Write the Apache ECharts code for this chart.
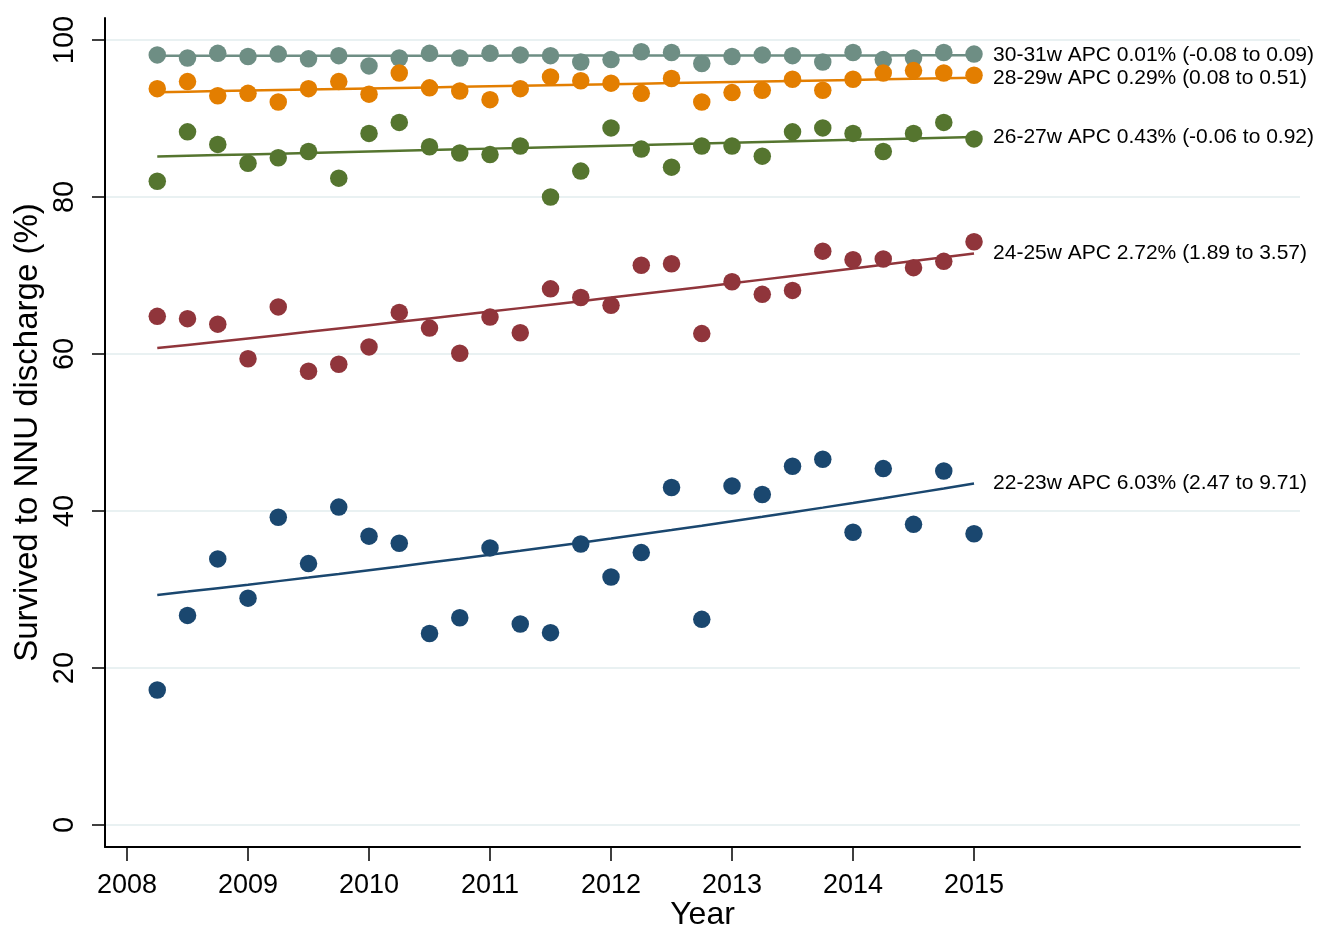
<!DOCTYPE html>
<html>
<head>
<meta charset="utf-8">
<title>Survival to NNU discharge by gestational age</title>
<script src="https://cdn.jsdelivr.net/npm/echarts@6/dist/echarts.min.js"></script>
<style>
  html, body { margin: 0; padding: 0; background: #ffffff; overflow: hidden; }
  #chart { width: 1323px; height: 928px; }
</style>
</head>
<body>
<div id="chart"></div>
<script>
// Quarterly time points (decimal year)
const quarters = [
  2008.25, 2008.5, 2008.75, 2009.0, 2009.25, 2009.5, 2009.75,
  2010.0, 2010.25, 2010.5, 2010.75, 2011.0, 2011.25, 2011.5,
  2011.75, 2012.0, 2012.25, 2012.5, 2012.75, 2013.0, 2013.25,
  2013.5, 2013.75, 2014.0, 2014.25, 2014.5, 2014.75, 2015.0
];

// Survival to neonatal unit discharge (%), by gestational age group
const w30_31 = [98.1, 97.7, 98.3, 97.9, 98.2, 97.6, 98.0, 96.7, 97.7, 98.3, 97.7, 98.3, 98.1, 98.0,
                97.2, 97.5, 98.5, 98.4, 97.0, 97.9, 98.1, 98.0, 97.2, 98.4, 97.5, 97.7, 98.4, 98.2];
const w28_29 = [93.8, 94.7, 92.9, 93.2, 92.1, 93.8, 94.7, 93.1, 95.8, 93.9, 93.5, 92.4, 93.8, 95.3,
                94.8, 94.5, 93.2, 95.1, 92.1, 93.3, 93.6, 95.0, 93.6, 95.0, 95.8, 96.1, 95.8, 95.5];
const w26_27 = [82.0, 88.3, 86.7, 84.3, 85.0, 85.8, 82.4, 88.1, 89.5, 86.4, 85.6, 85.4, 86.5, 80.0,
                83.3, 88.8, 86.1, 83.8, 86.5, 86.5, 85.2, 88.3, 88.8, 88.1, 85.8, 88.1, 89.5, 87.4];
const w24_25 = [64.8, 64.5, 63.8, 59.4, 66.0, 57.8, 58.7, 60.9, 65.3, 63.3, 60.1, 64.7, 62.7, 68.3,
                67.2, 66.2, 71.3, 71.5, 62.6, 69.2, 67.6, 68.1, 73.1, 72.0, 72.1, 71.0, 71.8, 74.3];
const w22_23 = [17.2, 26.7, 33.9, 28.9, 39.2, 33.3, 40.5, 36.8, 35.9, 24.4, 26.4, 35.3, 25.6, 24.5,
                35.8, 31.6, 34.7, 43.0, 26.2, 43.2, 42.1, 45.7, 46.6, 37.3, 45.4, 38.3, 45.1, 37.1];

// Group names, annual percent change (APC) with 95% CI, and fitted value at the first quarter
const groups = ['30-31w', '28-29w', '26-27w', '24-25w', '22-23w'];
const apc = [0.01, 0.29, 0.43, 2.72, 6.03];
const apcLow = [-0.08, 0.08, -0.06, 1.89, 2.47];
const apcHigh = [0.09, 0.51, 0.92, 3.57, 9.71];
const trendStart = [97.98, 93.35, 85.15, 60.75, 29.3];

// Axis ticks
const xTicks = [2008, 2009, 2010, 2011, 2012, 2013, 2014, 2015];
const yTicks = [0, 20, 40, 60, 80, 100];

const colors = ['#6e8e84', '#e37e00', '#55752f', '#90353b', '#1a476f'];
const values = [w30_31, w28_29, w26_27, w24_25, w22_23];

const fmt = v => v.toFixed(2);

// Log-linear trend implied by each group's APC
function trendLine(g) {
  const t0 = quarters[0];
  return quarters.map(q => [q, trendStart[g] * Math.pow(1 + apc[g] / 100, q - t0)]);
}

const series = [];
groups.forEach((name, g) => {
  series.push({
    name: name + ' trend',
    type: 'line',
    data: trendLine(g),
    showSymbol: false,
    symbol: 'none',
    silent: true,
    z: 2,
    lineStyle: { color: colors[g], width: 2.5 },
    endLabel: {
      show: true,
      distance: 19,
      color: '#000000',
      fontFamily: 'Liberation Sans, Arial, sans-serif',
      fontSize: 21,
      formatter: () => name + ' APC ' + fmt(apc[g]) + '% (' + fmt(apcLow[g]) + ' to ' + fmt(apcHigh[g]) + ')'
    }
  });
});
groups.forEach((name, g) => {
  series.push({
    name: name,
    type: 'scatter',
    data: quarters.map((q, i) => [q, values[g][i]]),
    symbol: 'circle',
    symbolSize: 17.5,
    z: 3,
    itemStyle: { color: colors[g], opacity: 1 }
  });
});

const chart = echarts.init(document.getElementById('chart'), null, { renderer: 'canvas' });
chart.setOption({
  backgroundColor: '#ffffff',
  animation: false,
  textStyle: { fontFamily: 'Liberation Sans, Arial, sans-serif', color: '#000000' },
  grid: { left: 105, right: 23, top: 18, bottom: 81, containLabel: false, outerBoundsMode: 'none' },
  xAxis: {
    type: 'value',
    min: 2007.818,
    max: 2017.694,
    name: 'Year',
    nameLocation: 'middle',
    nameGap: 52,
    nameMoveOverlap: false,
    nameTextStyle: { fontSize: 32, color: '#000000' },
    axisLine: { show: true, onZero: false, lineStyle: { color: '#000000', width: 2 } },
    axisTick: { show: true, length: 14, customValues: xTicks, lineStyle: { color: '#000000', width: 1.5 } },
    axisLabel: {
      customValues: xTicks,
      fontSize: 27,
      color: '#000000',
      margin: 25,
      formatter: v => String(v)
    },
    splitLine: { show: false }
  },
  yAxis: {
    type: 'value',
    min: -2.8,
    max: 102.8,
    name: 'Survived to NNU discharge (%)',
    nameLocation: 'middle',
    nameRotate: 90,
    nameGap: 61,
    nameMoveOverlap: false,
    nameTextStyle: { fontSize: 33, color: '#000000' },
    axisLine: { show: true, onZero: false, lineStyle: { color: '#000000', width: 2 } },
    axisTick: { show: true, length: 13, customValues: yTicks, lineStyle: { color: '#000000', width: 1.5 } },
    axisLabel: {
      customValues: yTicks,
      rotate: 90,
      fontSize: 29,
      color: '#000000',
      margin: 26
    },
    splitLine: { show: true, lineStyle: { color: '#e9f1f2', width: 2 } }
  },
  series: series
});
</script>
</body>
</html>
